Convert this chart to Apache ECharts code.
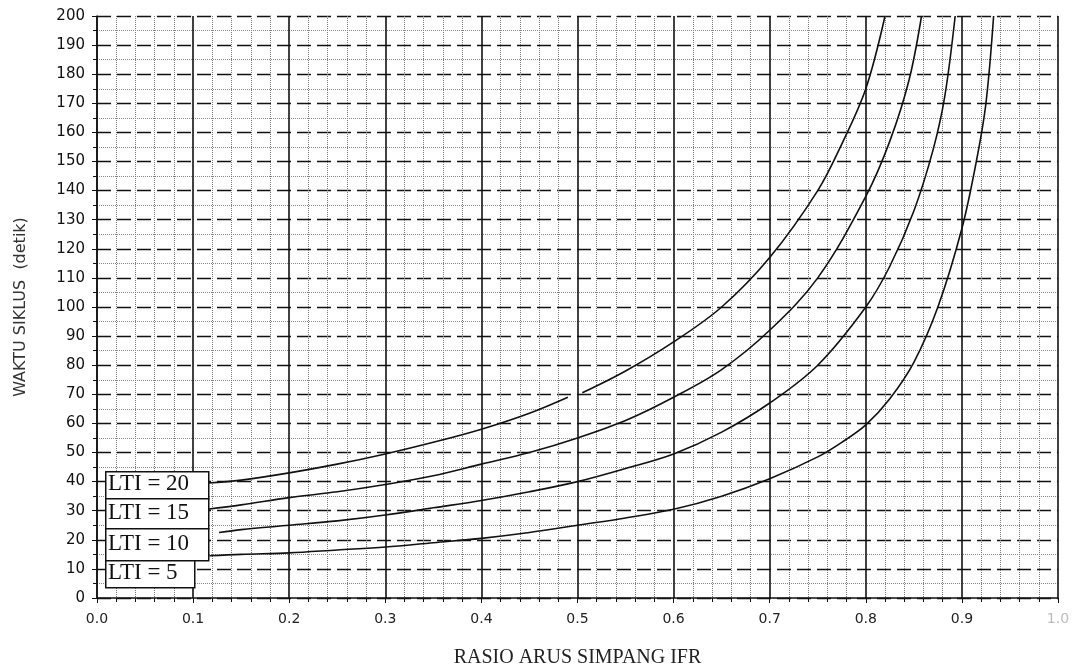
<!DOCTYPE html>
<html>
<head>
<meta charset="utf-8">
<script src="https://cdn.jsdelivr.net/npm/echarts@6/dist/echarts.min.js"></script>
<style>
html, body { margin: 0; padding: 0; background: #fff; }
#chart1 { width: 1088px; height: 669px; }
</style>
</head>
<body>
<div id="chart1"></div>
<script>
// values (FR ratio, cycle time in seconds)
var lti20 = [[0.115, 39.5], [0.15, 40.5], [0.2, 43], [0.25, 46], [0.3, 49.5], [0.35, 53.5], [0.4, 58], [0.45, 63.5], [0.49, 69],
  [0.497, '-'], [0.505, 70.5], [0.55, 78], [0.6, 88], [0.65, 100], [0.7, 117], [0.75, 140], [0.775, 156], [0.8, 175], [0.82, 200]]
var lti15 = [[0.115, 30.5], [0.15, 32], [0.2, 34.5], [0.25, 36.5], [0.3, 39], [0.35, 42], [0.4, 46], [0.45, 50], [0.5, 55], [0.55, 61],
  [0.6, 69], [0.65, 78.5], [0.7, 92], [0.75, 110], [0.8, 138], [0.825, 157], [0.845, 178], [0.858, 200]]
var lti10 = [[0.127, 22.5], [0.15, 23.5], [0.2, 25], [0.25, 26.5], [0.3, 28.5], [0.35, 31], [0.4, 33.5], [0.45, 36.5], [0.5, 40], [0.55, 44.5],
  [0.6, 49.5], [0.65, 57], [0.7, 67], [0.75, 80], [0.8, 100], [0.825, 114], [0.85, 133], [0.87, 154], [0.882, 172], [0.893, 200]]
var lti5 = [[0.117, 14.5], [0.15, 15], [0.2, 15.5], [0.25, 16.5], [0.3, 17.5], [0.35, 19], [0.4, 20.5], [0.45, 22.5], [0.5, 25], [0.55, 27.5],
  [0.6, 30.5], [0.65, 35], [0.7, 41], [0.75, 48.5], [0.775, 53.5], [0.8, 59.5], [0.825, 68.5], [0.85, 81], [0.875, 100], [0.9, 127],
  [0.915, 150], [0.925, 170], [0.933, 200]]
var labels = ['LTI = 20', 'LTI = 15', 'LTI = 10', 'LTI = 5']

var myChart1 = echarts.init(document.getElementById('chart1'))

function curve(name, data) {
  return {
    name: name,
    type: 'line',
    smooth: 0.35,
    symbol: 'none',
    connectNulls: false,
    lineStyle: { color: '#111', width: 1.6 },
    data: data
  }
}

// label boxes at the lower left
var boxes = [
  { top: 471, h: 27, w: 103 },
  { top: 498, h: 30, w: 103 },
  { top: 528, h: 32, w: 103 },
  { top: 560, h: 27, w: 89 }
]
var graphics = []
boxes.forEach(function (b, i) {
  graphics.push({
    type: 'rect', left: 105, top: b.top,
    shape: { width: b.w, height: b.h },
    style: { fill: '#fff', stroke: '#111', lineWidth: 1.5 },
    z: 100
  })
  graphics.push({
    type: 'text', left: 108, top: b.top + b.h / 2 - 12,
    style: { text: labels[i], fill: '#111', font: '23px "Liberation Serif"' },
    z: 101
  })
})

myChart1.setOption({
  animation: false,
  grid: { left: 97, right: 30, top: 16, bottom: 71, outerBoundsMode: 'none' },
  xAxis: {
    type: 'value',
    min: 0, max: 1, interval: 0.1,
    name: 'RASIO ARUS SIMPANG IFR',
    nameLocation: 'middle',
    nameGap: 50,
    nameTextStyle: { fontFamily: 'Liberation Serif', fontSize: 20, color: '#222' },
    axisLine: { lineStyle: { color: '#111', width: 1.5 } },
    axisTick: { length: 5, lineStyle: { color: '#111' } },
    minorTick: { show: true, splitNumber: 5, length: 4, lineStyle: { color: '#111' } },
    axisLabel: {
      margin: 14,
      fontFamily: 'DejaVu Sans', fontSize: 14,
      color: function (v) { return v > 0.95 ? '#bbb' : '#222' },
      formatter: function (v) { return v.toFixed(1) }
    },
    splitLine: { show: true, lineStyle: { color: '#111', width: 1.6 } },
    minorSplitLine: { show: true, lineStyle: { color: '#777', type: 'dotted', width: 1 } }
  },
  yAxis: {
    type: 'value',
    min: 0, max: 200, interval: 10,
    name: 'WAKTU SIKLUS  (detik)',
    nameLocation: 'middle',
    nameGap: 68,
    nameTextStyle: { fontFamily: 'DejaVu Sans', fontSize: 16, color: '#333' },
    axisLine: { show: true, lineStyle: { color: '#111', width: 1.5 } },
    axisTick: { show: true, length: 5, lineStyle: { color: '#111' } },
    minorTick: { show: true, splitNumber: 2, length: 4, lineStyle: { color: '#111' } },
    axisLabel: { margin: 12, fontFamily: 'DejaVu Sans', fontSize: 15, color: '#111' },
    splitLine: { show: true, lineStyle: { color: '#111', width: 1.4, type: [14, 6] } },
    minorSplitLine: { show: true, lineStyle: { color: '#888', type: 'dotted', width: 1 } }
  },
  series: [
    curve('LTI = 20', lti20),
    curve('LTI = 15', lti15),
    curve('LTI = 10', lti10),
    curve('LTI = 5', lti5)
  ],
  graphic: graphics
})
</script>
</body>
</html>
